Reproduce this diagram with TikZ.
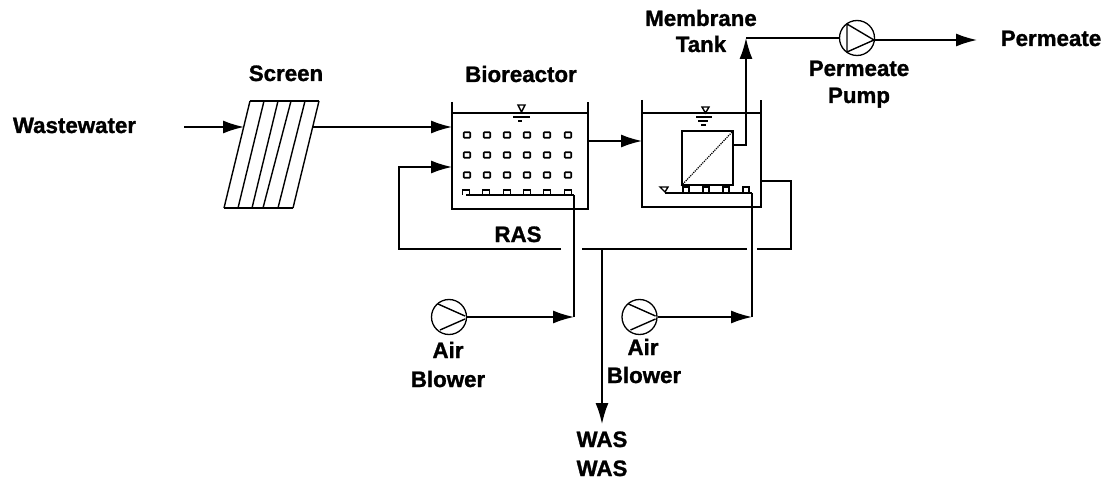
\documentclass[tikz,border=0pt]{standalone}
\usepackage{fontspec}
\setmainfont{Liberation Sans}[BoldFeatures={FakeBold=1.2}]
\usetikzlibrary{arrows.meta,calc}
\tikzset{
  pipe/.style={line width=1.5pt,black,line join=miter},
  flow/.style={pipe,-{Latex[length=21pt,width=13pt]}},
  thin part/.style={line width=1.4pt,black},
  lbl/.style={anchor=base,inner sep=0pt,font=\fontsize{22.3}{24}\selectfont\bfseries},
  machine/.style={circle,draw,line width=1.3pt,minimum size=35pt,inner sep=0pt},
  bubble/.style={draw,line width=1.6pt,minimum width=6.5pt,minimum height=5.5pt,inner sep=0pt,rounded corners=0.8pt},
}
\begin{document}
\begin{tikzpicture}[x=1pt,y=-1pt]
\useasboundingbox[fill=white] (0,0) rectangle (1108,481);

% labels
\node[lbl] (lWaste) at (74.5,133) {Wastewater};
\node[lbl] (lScreen) at (286,81) {Screen};
\node[lbl] (lBio) at (521,82) {Bioreactor};
\node[lbl] (lMem) at (701,26) {Membrane};
\node[lbl] (lTank) at (701,52) {Tank};
\node[lbl] (lPerm) at (859,76) {Permeate};
\node[lbl] (lPump) at (859,103) {Pump};
\node[lbl] (lOut) at (1051,46) {Permeate};
\node[lbl] (lRas) at (518,242) {RAS};
\node[lbl] (lAirA) at (448,358) {Air};
\node[lbl] (lBlowA) at (448,387) {Blower};
\node[lbl] (lAirB) at (643,355) {Air};
\node[lbl] (lBlowB) at (644,383) {Blower};
\node[lbl] (lWasA) at (602,447) {WAS};
\node[lbl] (lWasB) at (602,476) {WAS};

% screen
\draw[thin part] (250,101) -- (319,101) (224,208) -- (293,208);
\foreach \a/\b in {250/224,264/238,278/252,291/263,305/278,319/293}
  \draw[thin part] (\a,101) -- (\b,208);

% bioreactor tank
\draw[pipe] (452,102) -- (452,209) -- (588,209) -- (588,102);
\draw[pipe] (452,113) -- (588,113);
\draw[thin part] (518,105) -- (525,105) -- (521.5,112) -- cycle;
\draw[line width=2pt] (513,117) -- (530,117);
\draw[line width=1.6pt] (518,121) -- (522,121);
\foreach \x in {467,487,507,527,547,568}
  \foreach \y in {135,155,175}
    \node[bubble] at (\x,\y) {};
\foreach \x in {466,486,507,527,547,568}
  \draw[thin part] (\x-3.5,195) -- (\x-3.5,190) -- (\x+3.5,190) -- (\x+3.5,195);

% membrane tank
\draw[pipe] (642,100) -- (642,207) -- (761,207) -- (761,100);
\draw[pipe] (642,113) -- (761,113);
\draw[thin part] (702,107) -- (709,107) -- (705.5,113) -- cycle;
\draw[thin part] (696,117) -- (712,117) (698,121) -- (708,121) (701,125) -- (706,125);
\node[draw,line width=1.5pt,minimum width=51pt,minimum height=54pt,inner sep=0pt] (mem) at (707.5,158) {};
\draw[line width=1.2pt,densely dotted] (mem.south west) -- (mem.north east);
\foreach \x in {686,706,726,746}
  \draw[thin part] (\x-3,192) -- (\x-3,187) -- (\x+3,187) -- (\x+3,192);
\draw[thin part] (660,187) -- (668,187) -- (665,192) -- cycle;

% machines
\node[machine] (pump) at (857,38) {};
\draw[thin part] ([shift={(-10,-14)}]pump.center) -- ([shift={(-10,14)}]pump.center)
  ([shift={(-10,-14)}]pump.center) -- ([shift={(17,2)}]pump.center) -- ([shift={(-10,14)}]pump.center);
\node[machine] (blowA) at (449,317) {};
\draw[thin part] ([shift={(-11,-13)}]blowA.center) -- ([shift={(16,-1)}]blowA.center)
  ([shift={(-9,13)}]blowA.center) -- ([shift={(16,2)}]blowA.center);
\node[machine] (blowB) at (639.5,317) {};
\draw[thin part] ([shift={(-11,-13)}]blowB.center) -- ([shift={(16,-1)}]blowB.center)
  ([shift={(-9,13)}]blowB.center) -- ([shift={(16,2)}]blowB.center);

% free ends and junctions
\coordinate (inStart) at (184,127);
\coordinate (scrIn) at (244,127);
\coordinate (scrOut) at (313,127);
\coordinate (bioIn) at (452,127);
\coordinate (bioOut) at (588,141);
\coordinate (memIn) at (642,141);
\coordinate (rasIn) at (452,167);
\coordinate (rasFromMem) at (761,181);
\coordinate (memOut) at (733,145);
\coordinate (riser) at (746,38);
\coordinate (pumpOut) at (874,40);
\coordinate (permEnd) at (977,40);
\coordinate (spargeA) at (574,195);
\coordinate (spargeB) at (752,193);
\coordinate (wasTee) at (602,249);
\coordinate (wasEnd) at (602,424);

% connectors
\draw[flow] (inStart) -- (scrIn);
\draw[flow] (scrOut) -- (bioIn);
\draw[flow] (bioOut) -- (memIn);
\draw[flow] (memOut) -- (746,145) -- (riser);
\draw[pipe] (riser) -- (pump.west);
\draw[flow] (pumpOut) -- (permEnd);
\draw[pipe] (466,195) -- (spargeA);
\draw[pipe] (665,193) -- (spargeB);
\draw[flow] (blowA.east) -- (574,317) ;
\draw[pipe] (574,317) -- (spargeA);
\draw[flow] (blowB.east) -- (752,317);
\draw[pipe] (752,317) -- (spargeB);
\draw[pipe] (rasFromMem) -- (791,181) -- (791,249) -- (757,249);
\draw[pipe] (747,249) -- (582,249);
\draw[flow] (561,249) -- (399,249) -- (399,167) -- (rasIn);
\draw[flow] (wasTee) -- (wasEnd);
\end{tikzpicture}
\end{document}
